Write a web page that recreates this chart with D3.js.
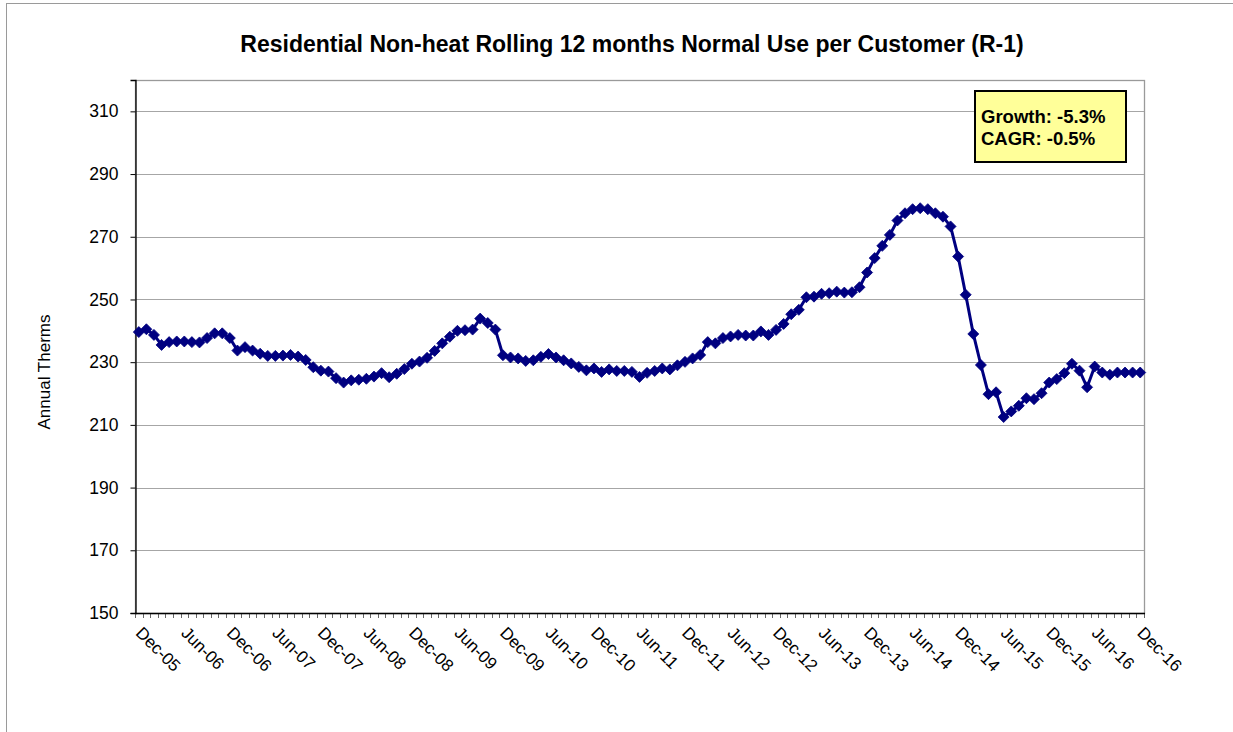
<!DOCTYPE html>
<html>
<head>
<meta charset="utf-8">
<script src="https://cdn.jsdelivr.net/npm/d3@7"></script>
<style>
  html, body { margin: 0; padding: 0; background: #fff; }
  svg { display: block; font-family: "Liberation Sans", Arial, sans-serif; }
</style>
</head>
<body>
<svg id="chart" width="1233" height="732"></svg>
<script>
// ---- data ----
const titleText = "Residential Non-heat Rolling 12 months Normal Use per Customer (R-1)";
const yAxisTitle = "Annual Therms";
const legendLines = ["Growth: -5.3%", "CAGR: -0.5%"];

// months Dec-05 .. Dec-16 (category axis)
const months = d3.timeMonth.range(new Date(2005, 11, 1), new Date(2017, 0, 1)).map(d3.timeFormat("%b-%y"));

const usage = [
  239.6, 240.5, 238.7, 235.5, 236.4, 236.6, 236.6, 236.4, 236.3, 237.7,
  239.2, 239.2, 237.7, 233.7, 234.8, 233.7, 232.7, 232.0, 232.0, 232.1,
  232.3, 231.8, 230.7, 228.4, 227.3, 227.0, 224.9, 223.5, 224.2, 224.4,
  224.7, 225.4, 226.5, 225.2, 226.3, 227.8, 229.5, 230.2, 231.4, 233.6,
  236.0, 238.1, 240.0, 240.2, 240.4, 243.9, 242.5, 240.4, 232.2, 231.5,
  231.2, 230.4, 230.6, 231.7, 232.6, 231.5, 230.6, 229.6, 228.5, 227.4,
  228.0, 226.9, 227.7, 227.2, 227.2, 226.9, 225.3, 226.6, 227.2, 228.0,
  227.7, 229.0, 230.1, 231.2, 232.3, 236.4, 236.0, 237.7, 238.2, 238.7,
  238.5, 238.5, 239.8, 238.7, 240.3, 242.2, 245.3, 246.7, 250.7, 250.9,
  251.8, 252.0, 252.5, 252.2, 252.3, 253.9, 258.6, 263.2, 267.1, 270.6,
  275.2, 277.5, 278.8, 279.1, 278.8, 277.5, 276.4, 273.3, 263.7, 251.5,
  239.0, 229.1, 219.8, 220.4, 212.5, 214.3, 216.1, 218.5, 218.2, 220.1,
  223.5, 224.6, 226.5, 229.5, 227.3, 222.0, 228.6, 226.7, 226.0, 226.7,
  226.7, 226.7, 226.7
];

const xTickLabels = ["Dec-05","Jun-06","Dec-06","Jun-07","Dec-07","Jun-08","Dec-08","Jun-09",
  "Dec-09","Jun-10","Dec-10","Jun-11","Dec-11","Jun-12","Dec-12","Jun-13","Dec-13","Jun-14",
  "Dec-14","Jun-15","Dec-15","Jun-16","Dec-16"];
const yTicks = [150, 170, 190, 210, 230, 250, 270, 290, 310];

// ---- layout ----
const plot = { left: 135, right: 1144, top: 80, bottom: 613 };
const svg = d3.select("#chart");

// outer frame
svg.append("rect").attr("x", 6.5).attr("y", 3.5).attr("width", 1240).attr("height", 740)
  .attr("fill", "#fff").attr("stroke", "#9a9a9a").attr("stroke-width", 1);

const x = d3.scaleBand().domain(months).range([plot.left, plot.right]).padding(0);
const xc = m => x(m) + x.bandwidth() / 2;
const y = d3.scaleLinear().domain([150, 320]).range([plot.bottom, plot.top]);

// plot border (top/right gray)
svg.append("rect").attr("x", plot.left + 0.5).attr("y", plot.top + 0.5)
  .attr("width", plot.right - plot.left).attr("height", plot.bottom - plot.top)
  .attr("fill", "#fff").attr("stroke", "#9a9a9a").attr("stroke-width", 1.3);

// gridlines
svg.append("g").selectAll("line").data(yTicks.filter(t => t > 150)).join("line")
  .attr("x1", plot.left).attr("x2", plot.right)
  .attr("y1", d => Math.round(y(d)) + 0.5).attr("y2", d => Math.round(y(d)) + 0.5)
  .attr("stroke", "#a6a6a6").attr("stroke-width", 1);

// y axis
const yAxis = d3.axisLeft(y).tickValues(yTicks).tickSize(5).tickPadding(12).tickFormat(d3.format("d"));
const gy = svg.append("g").attr("transform", `translate(${plot.left + 0.5},0)`).call(yAxis);
gy.select(".domain").attr("stroke", "#000").attr("stroke-width", 1.3);
gy.selectAll(".tick line").attr("stroke", "#000");
gy.selectAll(".tick text").attr("font-size", 17.5).attr("fill", "#000")
  .attr("font-family", "'Liberation Sans', Arial, sans-serif");

// x axis: minor ticks at every month boundary
const boundaries = months.map(m => x(m)).concat([plot.right]);
svg.append("g").selectAll("line").data(boundaries).join("line")
  .attr("x1", d => Math.round(d) + 0.5).attr("x2", d => Math.round(d) + 0.5)
  .attr("y1", plot.bottom).attr("y2", plot.bottom + 5)
  .attr("stroke", "#666").attr("stroke-width", 1);
svg.append("line").attr("x1", plot.left).attr("x2", plot.right + 1)
  .attr("y1", plot.bottom + 0.5).attr("y2", plot.bottom + 0.5)
  .attr("stroke", "#000").attr("stroke-width", 1.3);

// x labels, rotated 45°
svg.append("g").selectAll("text").data(xTickLabels).join("text")
  .attr("transform", d => `translate(${xc(d) - 4},${plot.bottom + 21}) rotate(45)`)
  .attr("font-size", 17).attr("fill", "#000").text(d => d);

// line
const line = d3.line().x((d, i) => xc(months[i])).y(d => y(d));
svg.append("path").datum(usage).attr("d", line)
  .attr("fill", "none").attr("stroke", "#000080").attr("stroke-width", 3).attr("stroke-linejoin", "round");

// diamond markers
const s = 5.5;
svg.append("g").selectAll("path").data(usage).join("path")
  .attr("transform", (d, i) => `translate(${xc(months[i])},${y(d)})`)
  .attr("d", `M0,${-s}L${s},0L0,${s}L${-s},0Z`)
  .attr("fill", "#000080").attr("stroke", "#000080").attr("stroke-width", 0.8);

// title
svg.append("text").attr("x", 632).attr("y", 52).attr("text-anchor", "middle")
  .attr("font-size", 23).attr("font-weight", "bold").attr("fill", "#000").text(titleText);

// y axis title
svg.append("text").attr("transform", "translate(50,372) rotate(-90)")
  .attr("text-anchor", "middle").attr("font-size", 17).attr("fill", "#000").text(yAxisTitle);

// legend box
svg.append("rect").attr("x", 975).attr("y", 91).attr("width", 151).attr("height", 71)
  .attr("fill", "#FFFF99").attr("stroke", "#000").attr("stroke-width", 2);
svg.append("g").selectAll("text").data(legendLines).join("text")
  .attr("x", 981).attr("y", (d, i) => 123 + i * 22)
  .attr("font-size", 18.5).attr("font-weight", "bold").attr("fill", "#000").text(d => d);
</script>
</body>
</html>
